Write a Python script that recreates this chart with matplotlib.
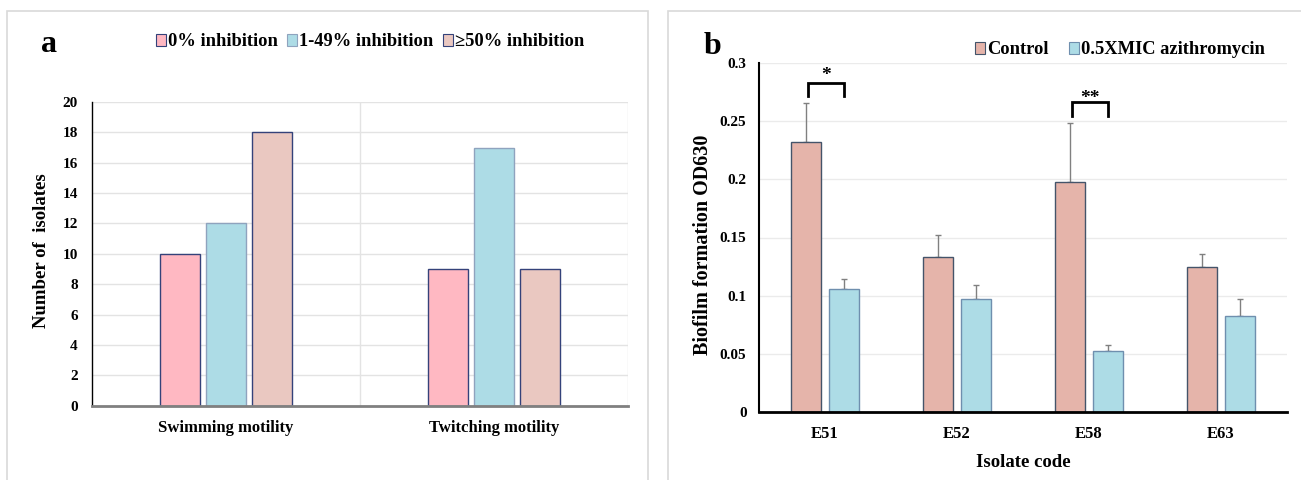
import matplotlib
matplotlib.use("Agg")
import matplotlib.pyplot as plt
import numpy as np
from matplotlib.patches import Rectangle, Patch

plt.rcParams['font.family'] = ['Liberation Serif', 'DejaVu Serif']
plt.rcParams['font.weight'] = 'bold'

# ---- Panel a data ----
motility = ["Swimming motility", "Twitching motility"]
inhib_labels = ["0% inhibition", "1-49% inhibition", "\u226550% inhibition"]
inhib_0 = [10, 9]
inhib_1_49 = [12, 17]
inhib_50 = [18, 9]
a_yticks = [0, 2, 4, 6, 8, 10, 12, 14, 16, 18, 20]

# ---- Panel b data ----
isolates = ["E51", "E52", "E58", "E63"]
b_series = ["Control", "0.5XMIC azithromycin"]
control = [0.232, 0.133, 0.198, 0.125]
control_err = [0.033, 0.019, 0.050, 0.011]
azithro = [0.106, 0.097, 0.053, 0.083]
azithro_err = [0.008, 0.012, 0.0045, 0.014]
b_yticks = [0, 0.05, 0.1, 0.15, 0.2, 0.25, 0.3]
b_ytick_labels = ["0", "0.05", "0.1", "0.15", "0.2", "0.25", "0.3"]
sig_marks = {"E51": "*", "E58": "**"}

W, H = 1301, 480
fig = plt.figure(figsize=(W / 100, H / 100), dpi=100)

# panel frames
fig.add_artist(Rectangle((7 / W, -0.05), (648 - 7) / W, 1.05 - 10.7 / H,
                         transform=fig.transFigure, fill=False,
                         edgecolor='#D9D9D9', linewidth=1.2))
fig.add_artist(Rectangle((668 / W, -0.05), 1.0, 1.05 - 10.7 / H,
                         transform=fig.transFigure, fill=False,
                         edgecolor='#D9D9D9', linewidth=1.2))

def fx(px):
    return px / W

def fy(py):
    return 1 - py / H

# ---------------- Panel a ----------------
axa = fig.add_axes([fx(91.7), fy(405.7), fx(628) - fx(91.7), fy(102) - fy(405.7)])
x = np.arange(len(motility))
bw = 0.149
step = bw + 0.022
a_colors = ['#FFB8C2', '#ADDCE6', '#EAC8C1']
a_edges = ['#34427A', '#8FA3BE', '#34427A']
for i, (vals, c, e) in enumerate(zip([inhib_0, inhib_1_49, inhib_50], a_colors, a_edges)):
    axa.bar(x + (i - 1) * step, vals, width=bw, color=c, edgecolor=e,
            linewidth=1.0, zorder=3)
axa.set_xlim(-0.5, 1.5)
axa.set_ylim(0, 20)
axa.set_yticks(a_yticks)
axa.set_xticks(x)
axa.set_xticklabels(motility, fontsize=12, fontweight='bold')
axa.tick_params(axis='y', length=0, pad=10, labelsize=11)
axa.tick_params(axis='x', length=0, pad=10)
axa.yaxis.grid(True, color='#E3E3E3', linewidth=1, zorder=0)
for xv in [0.5, 1.5]:
    axa.axvline(xv, color='#E3E3E3', linewidth=1, zorder=0)
for s in ['top', 'right']:
    axa.spines[s].set_visible(False)
axa.spines['left'].set_color('#000000')
axa.spines['left'].set_linewidth(1.0)
axa.spines['bottom'].set_color('#808080')
axa.spines['bottom'].set_linewidth(2.0)
axa.spines['bottom'].set_zorder(4)
axa.set_ylabel("Number of  isolates", fontsize=13.5, fontweight='bold')
axa.yaxis.set_label_coords(-0.078, 0.51)
for lbl in axa.get_yticklabels():
    lbl.set_fontweight('bold')

fig.text(fx(49), fy(44), "a", fontsize=23, fontweight='bold', ha='center', va='center')
a_handles = [Patch(facecolor=c, edgecolor=e, linewidth=0.8) for c, e in zip(a_colors, a_edges)]
fig.legend(a_handles, inhib_labels, loc='center', bbox_to_anchor=(fx(370), fy(42)),
           ncol=3, frameon=False, prop={'size': 13.3, 'weight': 'bold'},
           handlelength=0.55, handleheight=0.55, handletextpad=0.12,
           columnspacing=0.5, borderpad=0, borderaxespad=0)

# ---------------- Panel b ----------------
axb = fig.add_axes([fx(759), fy(412.3), fx(1287) - fx(759), fy(62.7) - fy(412.3)])
xb = np.arange(len(isolates))
bwb = 0.227
off = bwb / 2 + 0.03
b_colors = ['#E5B4AA', '#ADDCE6']
b_edges = ['#44546A', '#6F8FAE']
axb.bar(xb - off, control, width=bwb, color=b_colors[0], edgecolor=b_edges[0],
        linewidth=1.0, zorder=3)
axb.bar(xb + off, azithro, width=bwb, color=b_colors[1], edgecolor=b_edges[1],
        linewidth=1.0, zorder=3)
axb.errorbar(xb - off, control, yerr=[np.zeros(len(control)), control_err], fmt='none',
             ecolor='#808080', elinewidth=1, capsize=2, capthick=1, zorder=2)
axb.errorbar(xb + off, azithro, yerr=[np.zeros(len(azithro)), azithro_err], fmt='none',
             ecolor='#808080', elinewidth=1, capsize=2, capthick=1, zorder=2)
axb.set_xlim(-0.5, len(isolates) - 0.5)
axb.set_ylim(0, 0.3)
axb.set_yticks(b_yticks)
axb.set_yticklabels(b_ytick_labels, fontsize=11, fontweight='bold')
axb.set_xticks(xb)
axb.set_xticklabels(isolates, fontsize=12, fontweight='bold')
axb.tick_params(axis='y', length=0, pad=9)
axb.tick_params(axis='x', length=0, pad=10)
axb.yaxis.grid(True, color='#EBEBEB', linewidth=1, zorder=0)
for s in ['top', 'right']:
    axb.spines[s].set_visible(False)
axb.spines['left'].set_linewidth(1.5)
axb.spines['bottom'].set_linewidth(2.0)
axb.spines['bottom'].set_zorder(4)
axb.set_ylabel("Biofilm formation OD630", fontsize=14.5, fontweight='bold')
axb.yaxis.set_label_coords(-0.088, 0.48)
axb.set_xlabel("Isolate code", fontsize=13.5, fontweight='bold')
axb.xaxis.set_label_coords(0.5, -0.12)

# significance brackets
sig_levels = {"E51": (0.283, 0.2717, 0.289), "E58": (0.266, 0.2545, 0.2695)}
for name, mark in sig_marks.items():
    i = isolates.index(name)
    top, leg, ty = sig_levels[name]
    x0, x1 = i - 0.128, i + 0.145
    axb.plot([x0, x0, x1, x1], [leg, top, top, leg], color='black', linewidth=2,
             solid_joinstyle='miter', zorder=5, clip_on=False)
    axb.text((x0 + x1) / 2, ty, mark, ha='center', va='center', fontsize=14,
             fontweight='bold', zorder=5)

fig.text(fx(712), fy(46), "b", fontsize=23, fontweight='bold', ha='center', va='center')
b_handles = [Patch(facecolor=c, edgecolor=e, linewidth=0.8) for c, e in zip(b_colors, b_edges)]
fig.legend(b_handles, b_series, loc='center', bbox_to_anchor=(fx(1120), fy(50)),
           ncol=2, frameon=False, prop={'size': 13.3, 'weight': 'bold'},
           handlelength=0.55, handleheight=0.55, handletextpad=0.12,
           columnspacing=1.1, borderpad=0, borderaxespad=0)

fig.savefig("out.png", dpi=100)
